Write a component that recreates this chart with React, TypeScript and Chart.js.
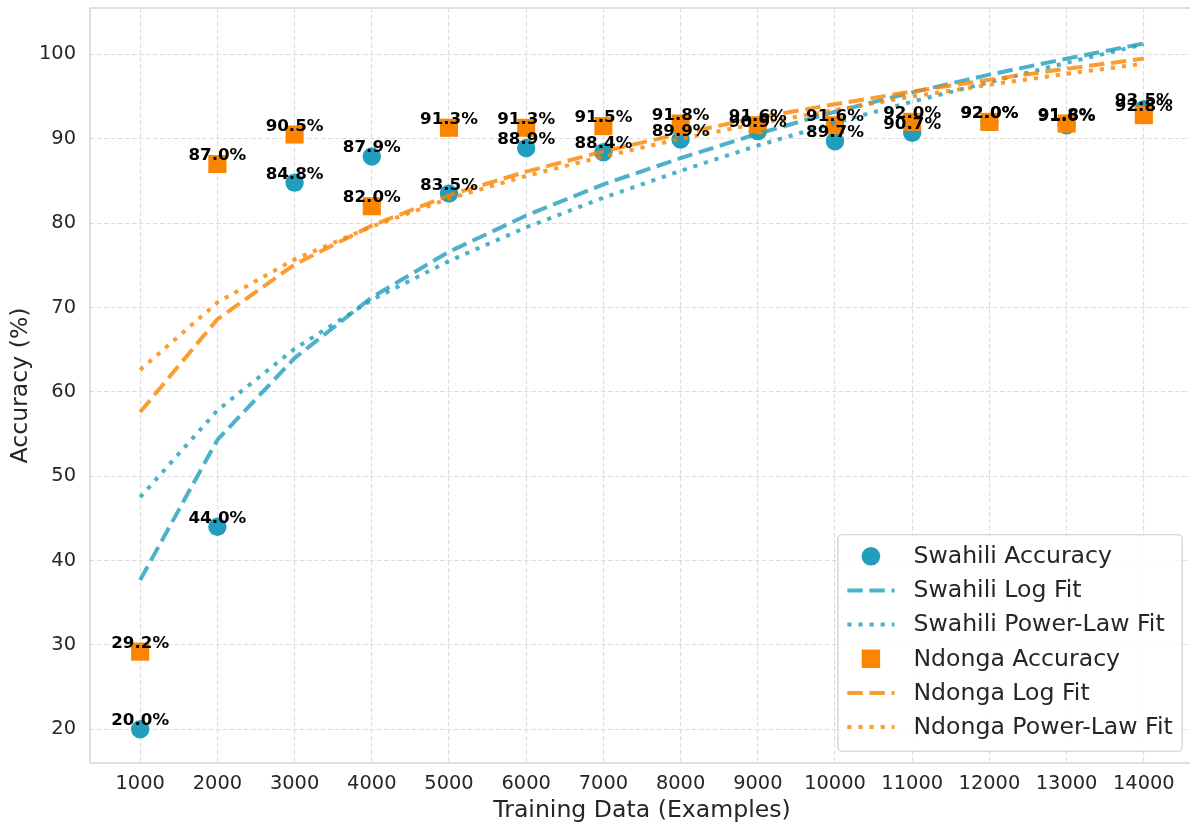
import React, { useEffect, useRef } from 'react';
import { Chart, registerables } from 'chart.js';

Chart.register(...registerables);

// ---- data ----
const trainingSizes = [1000, 2000, 3000, 4000, 5000, 6000, 7000, 8000, 9000, 10000, 11000, 12000, 13000, 14000];
const swahiliAccuracy = [20.0, 44.0, 84.8, 87.9, 83.5, 88.9, 88.4, 89.9, 90.9, 89.7, 90.7, 92.0, 91.6, 93.5];
const ndongaAccuracy = [29.2, 87.0, 90.5, 82.0, 91.3, 91.3, 91.5, 91.8, 91.6, 91.6, 92.0, 92.0, 91.8, 92.8];
const swahiliLogFit = [37.7, 54.3, 64.0, 71.2, 76.6, 80.9, 84.6, 87.7, 90.6, 93.2, 95.5, 97.6, 99.5, 101.3];
const swahiliPowerFit = [47.5, 57.8, 65.1, 70.9, 75.5, 79.5, 83.0, 86.2, 89.2, 91.9, 94.4, 96.7, 99.0, 101.2];
const ndongaLogFit = [57.6, 68.6, 75.1, 79.7, 83.3, 86.1, 88.5, 90.6, 92.5, 94.1, 95.6, 97.0, 98.3, 99.5];
const ndongaPowerFit = [62.6, 70.6, 75.7, 79.6, 82.9, 85.6, 87.9, 90.0, 91.8, 93.4, 95.0, 96.4, 97.7, 98.9];
const xTickValues = [1000, 2000, 3000, 4000, 5000, 6000, 7000, 8000, 9000, 10000, 11000, 12000, 13000, 14000];
const yTickValues = [20, 30, 40, 50, 60, 70, 80, 90, 100];

const FONT = '"DejaVu Sans", sans-serif';
const SW = '#219EBC';
const ND = '#FB8500';
const SW_FIT = 'rgba(33,158,188,0.8)';
const ND_FIT = 'rgba(251,133,0,0.8)';
const DASH = [15.4, 6.7];
const DOT = [4.2, 6.9];
const TEXT = '#262626';

type LegendItem = { label: string; kind: 'circle' | 'rect' | 'line'; color: string; dash?: number[] };
const legendItems: LegendItem[] = [
  { label: 'Swahili Accuracy', kind: 'circle', color: SW },
  { label: 'Swahili Log Fit', kind: 'line', color: SW_FIT, dash: DASH },
  { label: 'Swahili Power-Law Fit', kind: 'line', color: SW_FIT, dash: DOT },
  { label: 'Ndonga Accuracy', kind: 'rect', color: ND },
  { label: 'Ndonga Log Fit', kind: 'line', color: ND_FIT, dash: DASH },
  { label: 'Ndonga Power-Law Fit', kind: 'line', color: ND_FIT, dash: DOT },
];

export default function App() {
  const ref = useRef<HTMLCanvasElement>(null);

  useEffect(() => {
    const canvas = ref.current;
    if (!canvas) return;
    const pts = (ys: number[]) => trainingSizes.map((x, i) => ({ x, y: ys[i] }));

    const framePlugin = {
      id: 'frame',
      afterDatasetsDraw(chart: any) {
        const { ctx, chartArea: ca } = chart;
        ctx.save();
        ctx.strokeStyle = '#cccccc';
        ctx.lineWidth = 1.25;
        ctx.strokeRect(ca.left, ca.top, ca.right - ca.left, ca.bottom - ca.top);
        ctx.restore();
        // value labels
        ctx.save();
        ctx.font = `bold 16.7px ${FONT}`;
        ctx.fillStyle = '#000000';
        ctx.textAlign = 'center';
        ctx.textBaseline = 'alphabetic';
        chart.data.datasets.forEach((ds: any, di: number) => {
          if (!ds.valueLabels) return;
          const meta = chart.getDatasetMeta(di);
          meta.data.forEach((el: any, i: number) => {
            const v = ds.data[i].y as number;
            ctx.fillText(v.toFixed(1) + '%', el.x, el.y - 4);
          });
        });
        ctx.restore();
      },
    };

    const legendPlugin = {
      id: 'customLegend',
      afterDraw(chart: any) {
        const { ctx, chartArea: ca } = chart;
        const fs = 23.6;
        ctx.save();
        ctx.font = `${fs}px ${FONT}`;
        const maxW = Math.max(...legendItems.map((it) => ctx.measureText(it.label).width));
        const pad = 0.4 * fs;
        const handleLen = 2 * fs;
        const handlePad = 0.8 * fs;
        const axPad = 0.5 * fs;
        const w = pad + handleLen + handlePad + maxW + pad;
        const rowStep = 34.15;
        const h = 216.5;
        const right = ca.right - axPad;
        const bottom = ca.bottom - axPad;
        const left = right - w;
        const top = bottom - h;
        const r = 4;
        ctx.beginPath();
        ctx.moveTo(left + r, top);
        ctx.lineTo(right - r, top);
        ctx.arcTo(right, top, right, top + r, r);
        ctx.lineTo(right, bottom - r);
        ctx.arcTo(right, bottom, right - r, bottom, r);
        ctx.lineTo(left + r, bottom);
        ctx.arcTo(left, bottom, left, bottom - r, r);
        ctx.lineTo(left, top + r);
        ctx.arcTo(left, top, left + r, top, r);
        ctx.closePath();
        ctx.fillStyle = 'rgba(255,255,255,0.85)';
        ctx.fill();
        ctx.strokeStyle = '#cccccc';
        ctx.lineWidth = 1.1;
        ctx.stroke();

        legendItems.forEach((it, i) => {
          const cy = top + 21.6 + i * rowStep;
          const hx0 = left + pad;
          const hx1 = hx0 + handleLen;
          const cx = (hx0 + hx1) / 2;
          if (it.kind === 'circle') {
            ctx.beginPath();
            ctx.arc(cx, cy, 9.3, 0, Math.PI * 2);
            ctx.fillStyle = it.color;
            ctx.fill();
          } else if (it.kind === 'rect') {
            ctx.fillStyle = it.color;
            ctx.fillRect(cx - 9.2, cy - 9.2, 18.4, 18.4);
          } else {
            ctx.beginPath();
            ctx.setLineDash(it.dash || []);
            ctx.lineCap = 'butt';
            ctx.strokeStyle = it.color;
            ctx.lineWidth = 4;
            ctx.moveTo(hx0, cy);
            ctx.lineTo(hx1, cy);
            ctx.stroke();
            ctx.setLineDash([]);
          }
          ctx.fillStyle = TEXT;
          ctx.textAlign = 'left';
          ctx.textBaseline = 'alphabetic';
          ctx.fillText(it.label, hx1 + handlePad, cy + 6.8);
        });
        ctx.restore();
      },
    };

    const fitLine = (label: string, ys: number[], color: string, dash: number[], order: number) => ({
      type: 'line' as const,
      label,
      data: pts(ys),
      showLine: true,
      borderColor: color,
      backgroundColor: color,
      borderWidth: 4,
      borderDash: dash,
      borderCapStyle: 'butt' as const,
      pointRadius: 0,
      pointHoverRadius: 0,
      tension: 0,
      fill: false,
      order,
    });

    const chart = new Chart(canvas, {
      type: 'scatter',
      data: {
        datasets: [
          {
            label: 'Swahili Accuracy',
            data: pts(swahiliAccuracy),
            pointStyle: 'circle',
            pointRadius: 9.2,
            pointHoverRadius: 9.2,
            pointBackgroundColor: SW,
            pointBorderWidth: 0,
            borderColor: SW,
            backgroundColor: SW,
            showLine: false,
            order: 5,
            valueLabels: true,
          } as any,
          fitLine('Swahili Log Fit', swahiliLogFit, SW_FIT, DASH, 3),
          fitLine('Swahili Power-Law Fit', swahiliPowerFit, SW_FIT, DOT, 2),
          {
            label: 'Ndonga Accuracy',
            data: pts(ndongaAccuracy),
            pointStyle: 'rect',
            pointRadius: 12.8,
            pointHoverRadius: 12.8,
            pointBackgroundColor: ND,
            pointBorderWidth: 0,
            borderColor: ND,
            backgroundColor: ND,
            showLine: false,
            order: 4,
            valueLabels: true,
          } as any,
          fitLine('Ndonga Log Fit', ndongaLogFit, ND_FIT, DASH, 1),
          fitLine('Ndonga Power-Law Fit', ndongaPowerFit, ND_FIT, DOT, 0),
        ],
      },
      options: {
        responsive: false,
        maintainAspectRatio: false,
        devicePixelRatio: 1,
        animation: false,
        events: [],
        layout: { autoPadding: false, padding: { top: 8, left: 0, right: 0, bottom: 0 } },
        plugins: {
          legend: { display: false },
          tooltip: { enabled: false },
        },
        scales: {
          x: {
            type: 'linear',
            min: 350,
            max: 14650,
            afterBuildTicks: (s: any) => {
              s.ticks = xTickValues.map((v) => ({ value: v }));
            },
            afterFit: (s: any) => {
              s.height = 62;
              s.paddingLeft = 0;
              s.paddingRight = 0;
            },
            grid: { color: '#dddddd', lineWidth: 1.1, drawTicks: false },
            border: { display: false, dash: [4.5, 2.5] },
            ticks: {
              font: { family: FONT, size: 19.4 },
              color: TEXT,
              padding: 9.5,
              maxRotation: 0,
              autoSkip: false,
              callback: (v: any) => String(v),
            },
            title: {
              display: true,
              text: 'Training Data (Examples)',
              font: { family: FONT, size: 23.6 },
              color: TEXT,
              padding: { top: 0, bottom: 0 },
            },
          },
          y: {
            type: 'linear',
            min: 16,
            max: 105.5,
            afterBuildTicks: (s: any) => {
              s.ticks = yTickValues.map((v) => ({ value: v }));
            },
            afterFit: (s: any) => {
              s.width = 90;
              s.paddingTop = 0;
              s.paddingBottom = 0;
            },
            grid: { color: '#dddddd', lineWidth: 1.1, drawTicks: false },
            border: { display: false, dash: [4.5, 2.5] },
            ticks: {
              font: { family: FONT, size: 19.4 },
              color: TEXT,
              padding: 14,
              autoSkip: false,
              callback: (v: any) => String(v),
            },
            title: {
              display: true,
              text: 'Accuracy (%)',
              font: { family: FONT, size: 23.6 },
              color: TEXT,
              padding: { top: 7, bottom: 0 },
            },
          },
        },
      } as any,
      plugins: [framePlugin, legendPlugin],
    });

    return () => chart.destroy();
  }, []);

  return (
    <div
      style={{
        position: 'absolute',
        left: 0,
        top: 0,
        width: 1190,
        height: 825,
        overflow: 'hidden',
        background: '#ffffff',
      }}
    >
      <canvas ref={ref} width={1194} height={825} style={{ display: 'block', width: 1194, height: 825 }} />
    </div>
  );
}
